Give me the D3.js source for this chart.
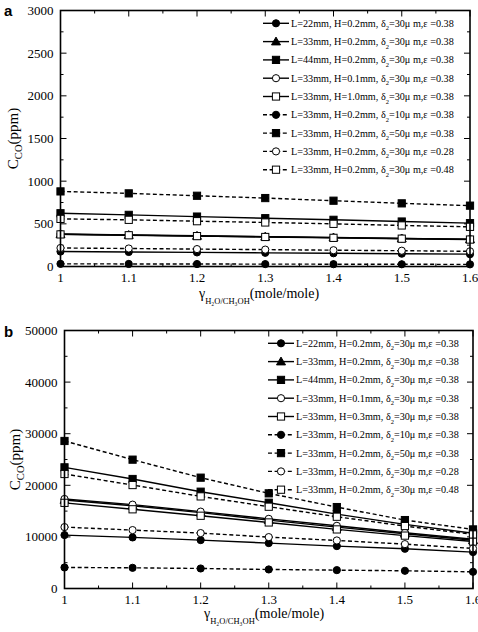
<!DOCTYPE html>
<html><head><meta charset="utf-8">
<script src="https://cdn.jsdelivr.net/npm/d3@7"></script>
<style>body{margin:0;background:#fff}svg{display:block}</style>
</head><body>
<svg id="chart" width="478" height="632"></svg>
<script>
// ---------- DATA ----------
const xValues = [1, 1.1, 1.2, 1.3, 1.4, 1.5, 1.6];
const xTickLabels = ["1", "1.1", "1.2", "1.3", "1.4", "1.5", "1.6"];

// Legend parameters (per series)
const legendL = ["22", "33", "44", "33", "33", "33", "33", "33", "33"];
const legendHA = ["0.2", "0.2", "0.2", "0.1", "1.0", "0.2", "0.2", "0.2", "0.2"];
const legendHB = ["0.2", "0.2", "0.2", "0.1", "0.3", "0.2", "0.2", "0.2", "0.2"];
const legendDelta = ["30", "30", "30", "30", "30", "10", "50", "30", "30"];
const legendEps = ["0.38", "0.38", "0.38", "0.38", "0.38", "0.38", "0.38", "0.28", "0.48"];

// Panel a values (ppm)
const a1 = [175, 170, 165, 160, 155, 150, 145];
const a2 = [378, 368, 358, 348, 338, 328, 318];
const a3 = [624, 605, 585, 566, 547, 527, 508];
const a4 = [380, 370, 360, 350, 340, 330, 320];
const a5 = [376, 366, 356, 346, 336, 326, 316];
const a6 = [31, 30, 29, 28, 27, 26, 25];
const a7 = [880, 857, 829, 802, 771, 740, 713];
const a8 = [217, 211, 204, 198, 191, 185, 178];
const a9 = [558, 547, 531, 516, 500, 481, 465];

// Panel b values (ppm)
const b1 = [10350, 9900, 9380, 8800, 8220, 7700, 7050];
const b2 = [17150, 16050, 14700, 13250, 11900, 10600, 9350];
const b3 = [23480, 21220, 18760, 16620, 14420, 12420, 10700];
const b4 = [17350, 16250, 14900, 13500, 12150, 10800, 9550];
const b5 = [16600, 15350, 14100, 12800, 11450, 10250, 9100];
const b6 = [4080, 4010, 3880, 3690, 3560, 3430, 3230];
const b7 = [28590, 24970, 21480, 18440, 15780, 13260, 11450];
const b8 = [11900, 11320, 10740, 9960, 9310, 8600, 7760];
const b9 = [22190, 20050, 17850, 15850, 13910, 12100, 10480];

const yTicksA = [0, 500, 1000, 1500, 2000, 2500, 3000];
const yTicksB = [0, 10000, 20000, 30000, 40000, 50000];

// ---------- STYLES ----------
const styles = [
  {dash: false, marker: "circle", fill: "#000"},
  {dash: false, marker: "triangle", fill: "#000"},
  {dash: false, marker: "square", fill: "#000"},
  {dash: false, marker: "circle", fill: "#fff"},
  {dash: false, marker: "square", fill: "#fff"},
  {dash: true, marker: "circle", fill: "#000"},
  {dash: true, marker: "square", fill: "#000"},
  {dash: true, marker: "circle", fill: "#fff"},
  {dash: true, marker: "square", fill: "#fff"}
];

const serif = "'Liberation Serif','Times New Roman',Times,serif";
const svg = d3.select("#chart");

function marker(g, type, cx, cy, fill) {
  if (type === "circle") {
    g.append("circle").attr("cx", cx).attr("cy", cy).attr("r", 3.6)
      .attr("fill", fill).attr("stroke", "#000").attr("stroke-width", 1);
  } else if (type === "square") {
    g.append("rect").attr("x", cx - 3.6).attr("y", cy - 3.6).attr("width", 7.2).attr("height", 7.2)
      .attr("fill", fill).attr("stroke", "#000").attr("stroke-width", 1);
  } else {
    g.append("path").attr("d", `M${cx},${cy - 4.5}L${cx + 4.5},${cy + 3.3}L${cx - 4.5},${cy + 3.3}Z`)
      .attr("fill", fill).attr("stroke", "#000").attr("stroke-width", 1);
  }
}

function drawPanel(cfg) {
  const g = svg.append("g");
  const x = d3.scaleLinear().domain([1, 1.6]).range([cfg.l, cfg.r]);
  const y = d3.scaleLinear().domain([0, cfg.yMax]).range([cfg.b, cfg.t]);

  // ticks (inward, all sides)
  const xt = d3.range(0, 13).map(i => 1 + i * 0.05);
  xt.forEach((v, i) => {
    const len = i % 2 === 0 ? 6 : 3;
    const px = x(v);
    g.append("line").attr("x1", px).attr("x2", px).attr("y1", cfg.b).attr("y2", cfg.b - len).attr("stroke", "#000").attr("stroke-width", 1);
    g.append("line").attr("x1", px).attr("x2", px).attr("y1", cfg.t).attr("y2", cfg.t + len).attr("stroke", "#000").attr("stroke-width", 1);
  });
  const yt = d3.range(0, cfg.yMax + 1, cfg.yMinor);
  yt.forEach((v, i) => {
    const len = i % 2 === 0 ? 6 : 3;
    const py = y(v);
    g.append("line").attr("x1", cfg.l).attr("x2", cfg.l + len).attr("y1", py).attr("y2", py).attr("stroke", "#000").attr("stroke-width", 1);
    g.append("line").attr("x1", cfg.r).attr("x2", cfg.r - len).attr("y1", py).attr("y2", py).attr("stroke", "#000").attr("stroke-width", 1);
  });

  // tick labels
  xValues.forEach((v, i) => {
    g.append("text").attr("x", x(v)).attr("y", cfg.b + 15).attr("text-anchor", "middle")
      .attr("font-family", serif).attr("font-size", 13).text(xTickLabels[i]);
  });
  cfg.yTicks.forEach(v => {
    g.append("text").attr("x", cfg.l - 7).attr("y", y(v) + 4.5).attr("text-anchor", "end")
      .attr("font-family", serif).attr("font-size", 13).text(v);
  });

  // lines
  const line = d3.line().x((d, i) => x(xValues[i])).y(d => y(d));
  cfg.series.forEach((s, k) => {
    g.append("path").attr("d", line(s)).attr("fill", "none").attr("stroke", "#000")
      .attr("stroke-width", 1.4).attr("stroke-dasharray", styles[k].dash ? "4,2.6" : null);
  });
  cfg.series.forEach((s, k) => {
    s.forEach((v, i) => marker(g, styles[k].marker, x(xValues[i]), y(v), styles[k].fill));
  });

  // frame
  g.append("rect").attr("x", cfg.l).attr("y", cfg.t).attr("width", cfg.r - cfg.l).attr("height", cfg.b - cfg.t)
    .attr("fill", "none").attr("stroke", "#000").attr("stroke-width", 1.6);

  // legend
  const H = cfg.legendH;
  styles.forEach((st, k) => {
    const ly = cfg.legY + k * 18.3;
    g.append("line").attr("x1", cfg.legX).attr("x2", cfg.legX + 26).attr("y1", ly).attr("y2", ly)
      .attr("stroke", "#000").attr("stroke-width", 1.4).attr("stroke-dasharray", st.dash ? "4,2.6" : null);
    marker(g, st.marker, cfg.legX + 13, ly, st.fill);
    const t = g.append("text").attr("x", cfg.legX + 28).attr("y", ly + 3.5)
      .attr("font-family", serif).attr("font-size", 10.2);
    t.append("tspan").text(`L=${legendL[k]}mm, H=${H[k]}mm, δ`);
    t.append("tspan").attr("font-size", 6.5).attr("dy", 3.5).text("2");
    t.append("tspan").attr("dy", -3.5).text(`=${legendDelta[k]}μ m,ε  =${legendEps[k]}`);
  });

  // axis titles
  const xt2 = g.append("text").attr("x", cfg.xTitleX).attr("y", cfg.xTitleY)
    .attr("font-family", serif).attr("font-size", 14);
  xt2.append("tspan").text("γ");
  xt2.append("tspan").attr("font-size", 8.5).attr("dy", 6).text("H₂O/CH₃OH");
  xt2.append("tspan").attr("dy", -6).text("(mole/mole)");

  const cy = (cfg.t + cfg.b) / 2;
  const yt2 = g.append("text").attr("transform", `translate(${cfg.yTitleX},${cy}) rotate(-90)`)
    .attr("text-anchor", "middle").attr("font-family", serif).attr("font-size", 15);
  yt2.append("tspan").text("C");
  yt2.append("tspan").attr("font-size", 10.5).attr("dy", 4).text("CO");
  yt2.append("tspan").attr("dy", -4).text("(ppm)");

  // panel letter
  g.append("text").attr("x", 4).attr("y", cfg.letterY).attr("font-family", "'Liberation Sans',Arial,sans-serif")
    .attr("font-weight", "bold").attr("font-size", 15).text(cfg.letter);
}

drawPanel({
  l: 60.5, r: 470, t: 10.5, b: 266.5, yMax: 3000, yMinor: 250, yTicks: yTicksA,
  series: [a1, a2, a3, a4, a5, a6, a7, a8, a9], legendH: legendHA,
  legX: 263, legY: 23.3, xTitleX: 199, xTitleY: 298, yTitleX: 18, letter: "a", letterY: 16
});
drawPanel({
  l: 64.5, r: 473, t: 330.5, b: 588.5, yMax: 50000, yMinor: 5000, yTicks: yTicksB,
  series: [b1, b2, b3, b4, b5, b6, b7, b8, b9], legendH: legendHB,
  legX: 268, legY: 343.3, xTitleX: 204, xTitleY: 618, yTitleX: 20, letter: "b", letterY: 337
});
</script>
</body></html>
